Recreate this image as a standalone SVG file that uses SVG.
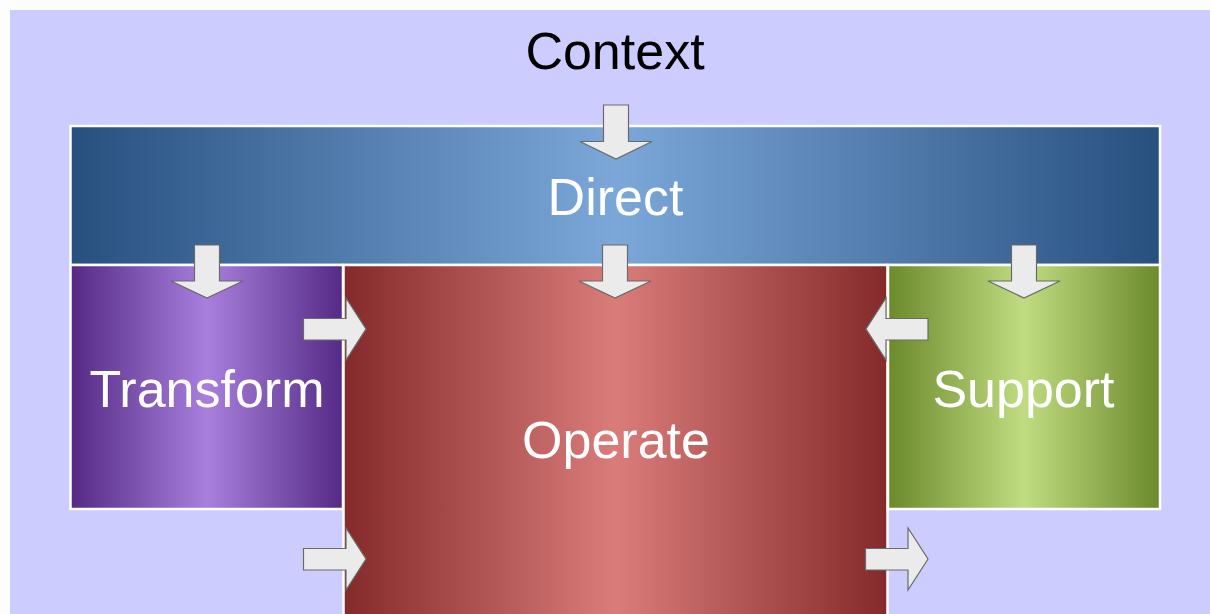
<svg xmlns="http://www.w3.org/2000/svg" width="1210" height="614" viewBox="0 0 1210 614">
<style>
.box{stroke:#ffffff;stroke-width:2.5}
.arr{fill:#ebebeb;stroke:#6a6a6a;stroke-width:1.2;stroke-linejoin:miter}
.lbl{font-family:"Liberation Sans",Arial,sans-serif;font-size:52px;text-anchor:middle;fill:#ffffff}
</style>
<defs>
<linearGradient id="gDirect" x1="0" y1="0" x2="1" y2="0">
<stop offset="0" stop-color="#27507f"/><stop offset="0.5" stop-color="#7ba7d9"/><stop offset="1" stop-color="#27507f"/>
</linearGradient>
<linearGradient id="gTransform" x1="0" y1="0" x2="1" y2="0">
<stop offset="0" stop-color="#542a86"/><stop offset="0.5" stop-color="#a87fdc"/><stop offset="1" stop-color="#542a86"/>
</linearGradient>
<linearGradient id="gOperate" x1="0" y1="0" x2="1" y2="0">
<stop offset="0" stop-color="#852a2a"/><stop offset="0.5" stop-color="#d97c7a"/><stop offset="1" stop-color="#852a2a"/>
</linearGradient>
<linearGradient id="gSupport" x1="0" y1="0" x2="1" y2="0">
<stop offset="0" stop-color="#6b8a2c"/><stop offset="0.5" stop-color="#c0dc80"/><stop offset="1" stop-color="#6b8a2c"/>
</linearGradient>
</defs>
<rect x="0" y="0" width="1210" height="614" fill="#fdfdfd"/>
<g id="context">
<rect x="10" y="10" width="1200" height="604" fill="#ccccff"/>
<text x="615" y="69" font-family="Liberation Sans,Arial,sans-serif" font-size="52" text-anchor="middle" fill="#000000">Context</text>
</g>
<g id="direct">
<rect class="box" x="70.5" y="126" width="1089.5" height="139" fill="url(#gDirect)"/>
<text class="lbl" x="615.5" y="215">Direct</text>
</g>
<g id="transform">
<rect class="box" x="70.5" y="265" width="272.5" height="244" fill="url(#gTransform)"/>
<text class="lbl" x="207" y="407">Transform</text>
</g>
<g id="operate">
<rect class="box" x="343.5" y="265" width="544" height="360" fill="url(#gOperate)"/>
<text class="lbl" x="616" y="458">Operate</text>
</g>
<g id="support">
<rect class="box" x="888" y="265" width="272" height="244" fill="url(#gSupport)"/>
<text class="lbl" x="1023.5" y="407">Support</text>
</g>
<g id="connectors">
<path class="arr" d="M603.5,105 H628.5 V141.5 H652 L616,159 L580,141.5 H603.5 Z"/>
<path class="arr" d="M194.5,245 H219.5 V281 H243 L207,298 L171,281 H194.5 Z"/>
<path class="arr" d="M602.5,245 H627.5 V281 H651 L615,298 L579,281 H602.5 Z"/>
<path class="arr" d="M1011.5,245 H1036.5 V281 H1060 L1024,298 L988,281 H1011.5 Z"/>
<path class="arr" d="M303.5,318.5 H346 V298 L366,329 L346,360 V340 H303.5 Z"/>
<path class="arr" d="M928,318.5 H886 V298 L866,329 L886,360 V340 H928 Z"/>
<path class="arr" d="M303.5,548.5 H346 V528 L366,559 L346,590 V570 H303.5 Z"/>
<path class="arr" d="M865.5,548.5 H908 V528 L928,559 L908,590 V570 H865.5 Z"/>
</g>
</svg>
